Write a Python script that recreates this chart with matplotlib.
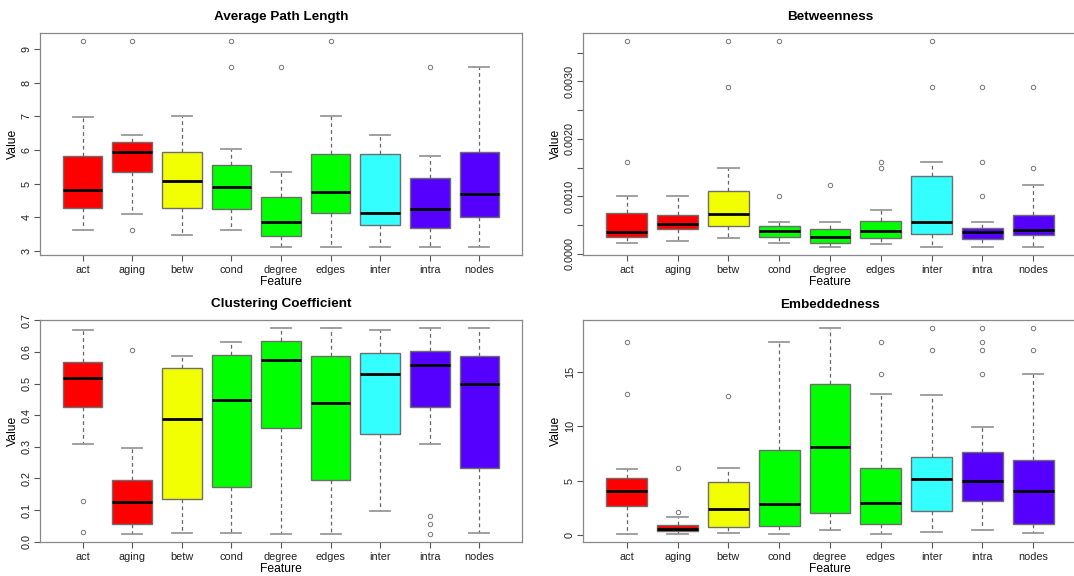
import matplotlib
matplotlib.use("Agg")
import matplotlib.pyplot as plt
from matplotlib.ticker import FixedLocator, FuncFormatter

plt.rcParams['font.family'] = ['Liberation Sans', 'DejaVu Sans']

features = ['act', 'aging', 'betw', 'cond', 'degree', 'edges', 'inter', 'intra', 'nodes']
box_colors = ['#FF0000', '#FF0000', '#F2FF00', '#00FF00', '#00FF00', '#00FF00',
              '#33FFFF', '#5500FF', '#5500FF']

# Average Path Length
apl_lo = [3.63, 4.09, 3.47, 3.63, 3.12, 3.12, 3.12, 3.12, 3.12]
apl_q1 = [4.26, 5.34, 4.26, 4.25, 3.43, 4.12, 3.76, 3.67, 4.00]
apl_med = [4.81, 5.93, 5.07, 4.90, 3.85, 4.75, 4.12, 4.24, 4.69]
apl_q3 = [5.83, 6.23, 5.93, 5.55, 4.61, 5.89, 5.89, 5.17, 5.93]
apl_hi = [6.99, 6.46, 7.00, 6.02, 5.34, 7.00, 6.46, 5.83, 8.47]
apl_out = [[9.24], [9.24, 3.61], [], [9.24, 8.47], [8.47], [9.24], [], [8.47], []]

# Betweenness
btw_lo = [0.00019, 0.000215, 0.00027, 0.00019, 0.00012, 0.000168, 0.00012, 0.00012, 0.00012]
btw_q1 = [0.00029, 0.00043, 0.000475, 0.00029, 0.00019, 0.00027, 0.000342, 0.00026, 0.000325]
btw_med = [0.000377, 0.00052, 0.00069, 0.00039, 0.00029, 0.00039, 0.000557, 0.000377, 0.000417]
btw_q3 = [0.000707, 0.00068, 0.0011, 0.000475, 0.00043, 0.000574, 0.00135, 0.00044, 0.00068]
btw_hi = [0.001, 0.001, 0.0015, 0.000545, 0.000545, 0.000754, 0.0016, 0.000545, 0.0012]
btw_out = [[0.0037, 0.0016], [], [0.0037, 0.0029], [0.0037, 0.001], [0.0012],
           [0.0016, 0.0015], [0.0037, 0.0029], [0.0029, 0.0016, 0.001], [0.0029, 0.0015]]

# Clustering Coefficient
clu_lo = [0.31, 0.025, 0.028, 0.028, 0.025, 0.025, 0.098, 0.31, 0.028]
clu_q1 = [0.427, 0.057, 0.134, 0.174, 0.359, 0.195, 0.339, 0.427, 0.233]
clu_med = [0.517, 0.124, 0.387, 0.449, 0.575, 0.438, 0.529, 0.56, 0.499]
clu_q3 = [0.569, 0.195, 0.548, 0.589, 0.636, 0.588, 0.597, 0.604, 0.586]
clu_hi = [0.668, 0.295, 0.588, 0.633, 0.675, 0.675, 0.668, 0.675, 0.675]
clu_out = [[0.128, 0.032], [0.605], [], [], [], [], [], [0.08, 0.057, 0.025], []]

# Embeddedness
emb_lo = [0.12, 0.12, 0.15, 0.12, 0.46, 0.12, 0.24, 0.43, 0.15]
emb_q1 = [2.69, 0.40, 0.70, 0.80, 1.99, 0.98, 2.23, 3.09, 1.04]
emb_med = [4.07, 0.52, 2.42, 2.85, 8.08, 2.97, 5.14, 4.93, 4.07]
emb_q3 = [5.20, 0.95, 4.84, 7.84, 13.84, 6.12, 7.13, 7.59, 6.92]
emb_hi = [6.06, 1.62, 6.15, 17.7, 18.98, 12.92, 12.83, 9.89, 14.78]
emb_out = [[17.7, 12.9], [6.18, 2.14], [12.8], [], [], [17.7, 14.8], [18.98, 17.0],
           [18.98, 17.7, 17.0, 14.8], [18.98, 17.0]]

W, H = 1074, 576
fig = plt.figure(figsize=(W / 100, H / 100), dpi=100)


def px_axes(x0, y0, x1, y1):
    return fig.add_axes([x0 / W, 1 - y1 / H, (x1 - x0) / W, (y1 - y0) / H])


def draw_panel(ax, title, lo, q1, med, q3, hi, out, yticks, ylabels=None):
    stats = []
    for i in range(len(features)):
        stats.append(dict(label=features[i], whislo=lo[i], q1=q1[i], med=med[i],
                          q3=q3[i], whishi=hi[i], fliers=out[i]))
    bp = ax.bxp(stats, widths=0.8, patch_artist=True,
                boxprops=dict(edgecolor='#6E6E6E', linewidth=1.0),
                medianprops=dict(color='black', linewidth=2.0),
                whiskerprops=dict(color='#666666', linewidth=0.9, linestyle=(0, (3, 2.5))),
                capprops=dict(color='#999999', linewidth=1.3),
                flierprops=dict(marker='o', markersize=3.2, markerfacecolor='none',
                                markeredgecolor='#777777', markeredgewidth=0.7))
    for patch, c in zip(bp['boxes'], box_colors):
        patch.set_facecolor(c)

    # R style range: data range plus 4% on each side
    allv = lo + hi + [v for f in out for v in f]
    vmin, vmax = min(allv), max(allv)
    ext = 0.04 * (vmax - vmin)
    ax.set_ylim(vmin - ext, vmax + ext)
    ax.set_xlim(0.14, 9.86)

    ax.yaxis.set_major_locator(FixedLocator(yticks))
    if ylabels is not None:
        ax.yaxis.set_major_formatter(FuncFormatter(lambda v, p: ylabels[p] if p < len(ylabels) else ''))
    ax.tick_params(axis='y', labelrotation=90, length=4, width=0.8, color='#555555',
                   labelsize=7.8, pad=2, labelcolor='#222222')
    ax.tick_params(axis='x', length=4, width=0.8, color='#555555',
                   labelsize=7.8, pad=3, labelcolor='#222222')
    for lab in ax.get_yticklabels():
        lab.set_va('center')
    for s in ax.spines.values():
        s.set_color('#888888')
        s.set_linewidth(0.9)

    ax.set_title(title, fontsize=9.7, fontweight='bold', pad=9)
    ax.set_xlabel('Feature', fontsize=8.7, labelpad=1)
    ax.set_ylabel('Value', fontsize=8.7)
    w_px = ax.get_position().width * W
    ax.yaxis.set_label_coords(-21 / w_px, 0.5)


ax1 = px_axes(40, 33, 522, 255)
draw_panel(ax1, 'Average Path Length', apl_lo, apl_q1, apl_med, apl_q3, apl_hi, apl_out,
           [3, 4, 5, 6, 7, 8, 9])

ax2 = px_axes(583, 33, 1077, 255)
btw_ticks = [0, 0.0005, 0.001, 0.0015, 0.002, 0.0025, 0.003, 0.0035]
btw_labels = ['0.0000', '', '0.0010', '', '0.0020', '', '0.0030', '']
draw_panel(ax2, 'Betweenness', btw_lo, btw_q1, btw_med, btw_q3, btw_hi, btw_out,
           btw_ticks, btw_labels)

ax3 = px_axes(40, 320, 522, 542)
clu_ticks = [0.0, 0.1, 0.2, 0.3, 0.4, 0.5, 0.6, 0.7]
draw_panel(ax3, 'Clustering Coefficient', clu_lo, clu_q1, clu_med, clu_q3, clu_hi, clu_out,
           clu_ticks, ['%.1f' % t for t in clu_ticks])

ax4 = px_axes(583, 320, 1077, 542)
draw_panel(ax4, 'Embeddedness', emb_lo, emb_q1, emb_med, emb_q3, emb_hi, emb_out,
           [0, 5, 10, 15])

fig.savefig('out.png', dpi=100)
